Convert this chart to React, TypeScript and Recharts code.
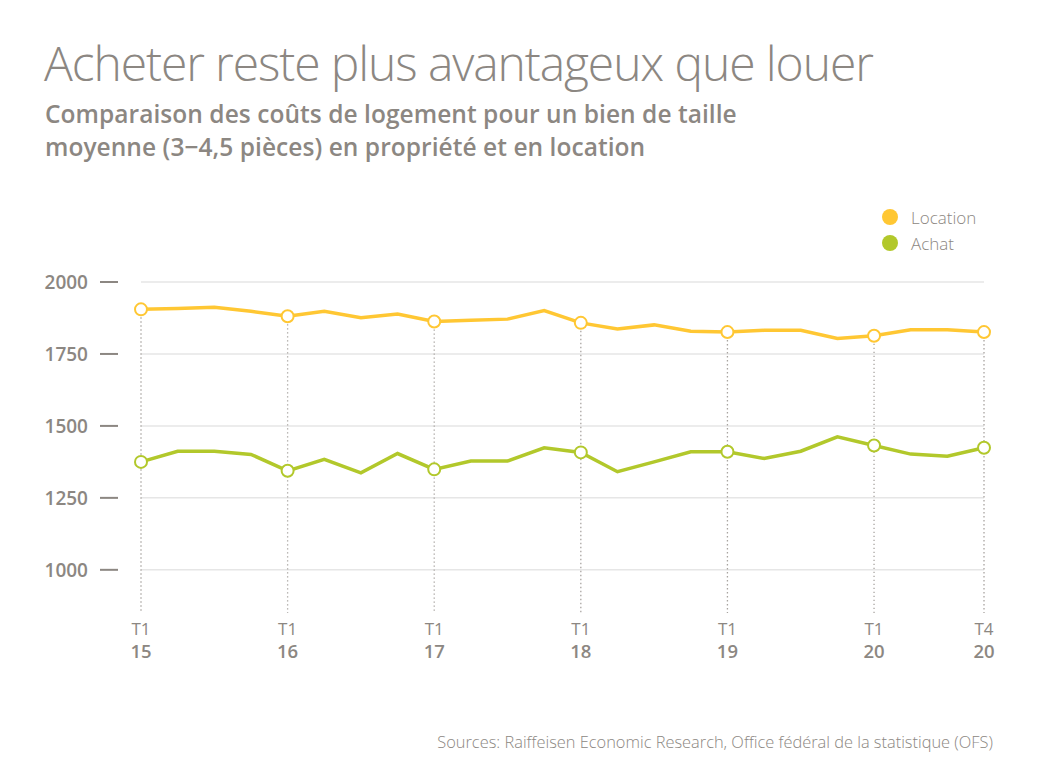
import React from "react";
import { LineChart, Line, XAxis, YAxis, ReferenceLine } from "recharts";

const quarters = [
  "T1 15", "T2 15", "T3 15", "T4 15",
  "T1 16", "T2 16", "T3 16", "T4 16",
  "T1 17", "T2 17", "T3 17", "T4 17",
  "T1 18", "T2 18", "T3 18", "T4 18",
  "T1 19", "T2 19", "T3 19", "T4 19",
  "T1 20", "T2 20", "T3 20", "T4 20",
];
const locationValues = [1905, 1908, 1912, 1898, 1881, 1898, 1876, 1889, 1863, 1867, 1871, 1901, 1858, 1837, 1851, 1829, 1826, 1832, 1832, 1804, 1813, 1834, 1834, 1826];
const achatValues = [1375, 1412, 1412, 1401, 1344, 1384, 1337, 1404, 1349, 1378, 1378, 1424, 1408, 1341, 1375, 1410, 1410, 1387, 1412, 1462, 1432, 1402, 1395, 1424];
const labeledQuarters = ["T1 15", "T1 16", "T1 17", "T1 18", "T1 19", "T1 20", "T4 20"];
const yTicks = [1000, 1250, 1500, 1750, 2000];
const yDomain = [850, 2000];

const data = quarters.map((q, i) => ({ q, location: locationValues[i], achat: achatValues[i] }));

const GRAY = "#8c8782";
const YELLOW = "#ffc733";
const GREEN = "#b2c82b";
const FONT = "'Open Sans', sans-serif";

const XTick = (props: any) => {
  const { x, y, payload } = props;
  const v: string = payload.value;
  if (!labeledQuarters.includes(v)) return <g />;
  const [qq, yy] = v.split(" ");
  return (
    <g>
      <text x={x} y={y + 22} textAnchor="middle" fill={GRAY} fontFamily={FONT} fontWeight={400} fontSize={17}>{qq}</text>
      <text x={x} y={y + 45} textAnchor="middle" fill={GRAY} fontFamily={FONT} fontWeight={600} fontSize={18.5}>{yy}</text>
    </g>
  );
};

const YTick = (props: any) => {
  const { x, y, payload } = props;
  return (
    <g>
      <text x={x - 53} y={y} textAnchor="end" dominantBaseline="central" fill={GRAY} fontFamily={FONT} fontWeight={600} fontSize={19}>{payload.value}</text>
      <line x1={x - 41} x2={x - 23} y1={y} y2={y} stroke={GRAY} strokeWidth={2} />
    </g>
  );
};

const makeDot = (color: string) => (props: any) => {
  const { cx, cy, payload, index } = props;
  if (!labeledQuarters.includes(payload.q)) return <g key={`d${index}`} />;
  return <circle key={`d${index}`} cx={cx} cy={cy} r={6} fill="#fff" stroke={color} strokeWidth={2} />;
};

export default function App() {
  return (
    <div style={{ position: "absolute", left: 0, top: 0, width: 1040, height: 769, background: "#fff", fontFamily: FONT, color: GRAY }}>
      <div style={{ position: "absolute", left: 44, top: 30, fontSize: 48, fontWeight: 300, whiteSpace: "nowrap", letterSpacing: -1.1 }}>
        Acheter reste plus avantageux que louer
      </div>
      <div style={{ position: "absolute", left: 45, top: 97, fontSize: 24.5, fontWeight: 600, lineHeight: "33px", whiteSpace: "nowrap", letterSpacing: 0.05 }}>
        Comparaison des coûts de logement pour un bien de taille
        <br />
        moyenne (3−4,5 pièces) en propriété et en location
      </div>
      <div style={{ position: "absolute", left: 882, top: 204 }}>
        {[{ name: "Location", color: YELLOW }, { name: "Achat", color: GREEN }].map((it) => (
          <div key={it.name} style={{ display: "flex", alignItems: "center", height: 26 }}>
            <span style={{ display: "inline-block", width: 16, height: 16, borderRadius: 8, background: it.color, marginRight: 13 }} />
            <span style={{ fontSize: 17, fontWeight: 300 }}>{it.name}</span>
          </div>
        ))}
      </div>
      <div style={{ position: "absolute", right: 47, top: 730, fontSize: 16.4, fontWeight: 300, whiteSpace: "nowrap" }}>
        Sources: Raiffeisen Economic Research, Office fédéral de la statistique (OFS)
      </div>
      <div style={{ position: "absolute", left: 0, top: 0 }}>
        <LineChart width={1040} height={769} data={data} margin={{ top: 282, right: 56, bottom: 96, left: 0 }}>
          <XAxis dataKey="q" interval={0} tick={<XTick />} tickLine={false} axisLine={false} tickSize={0} tickMargin={0} height={60} />
          <YAxis type="number" domain={yDomain} ticks={yTicks} tick={<YTick />} tickLine={false} axisLine={false} tickSize={0} tickMargin={0} width={141} />
          {yTicks.map((v) => (
            <ReferenceLine key={`g${v}`} y={v} stroke="#e6e6e6" strokeWidth={1.5} />
          ))}
          {labeledQuarters.map((q) => {
            const i = quarters.indexOf(q);
            return (
              <ReferenceLine
                key={q}
                segment={[{ x: q, y: locationValues[i] }, { x: q, y: yDomain[0] }]}
                stroke="#a8a4a0"
                strokeWidth={1.3}
                strokeDasharray="1.3 2.7"
                ifOverflow="visible"
              />
            );
          })}
          <Line type="linear" dataKey="location" stroke={YELLOW} strokeWidth={3.5} dot={makeDot(YELLOW)} activeDot={false} isAnimationActive={false} />
          <Line type="linear" dataKey="achat" stroke={GREEN} strokeWidth={3.5} dot={makeDot(GREEN)} activeDot={false} isAnimationActive={false} />
        </LineChart>
      </div>
    </div>
  );
}
